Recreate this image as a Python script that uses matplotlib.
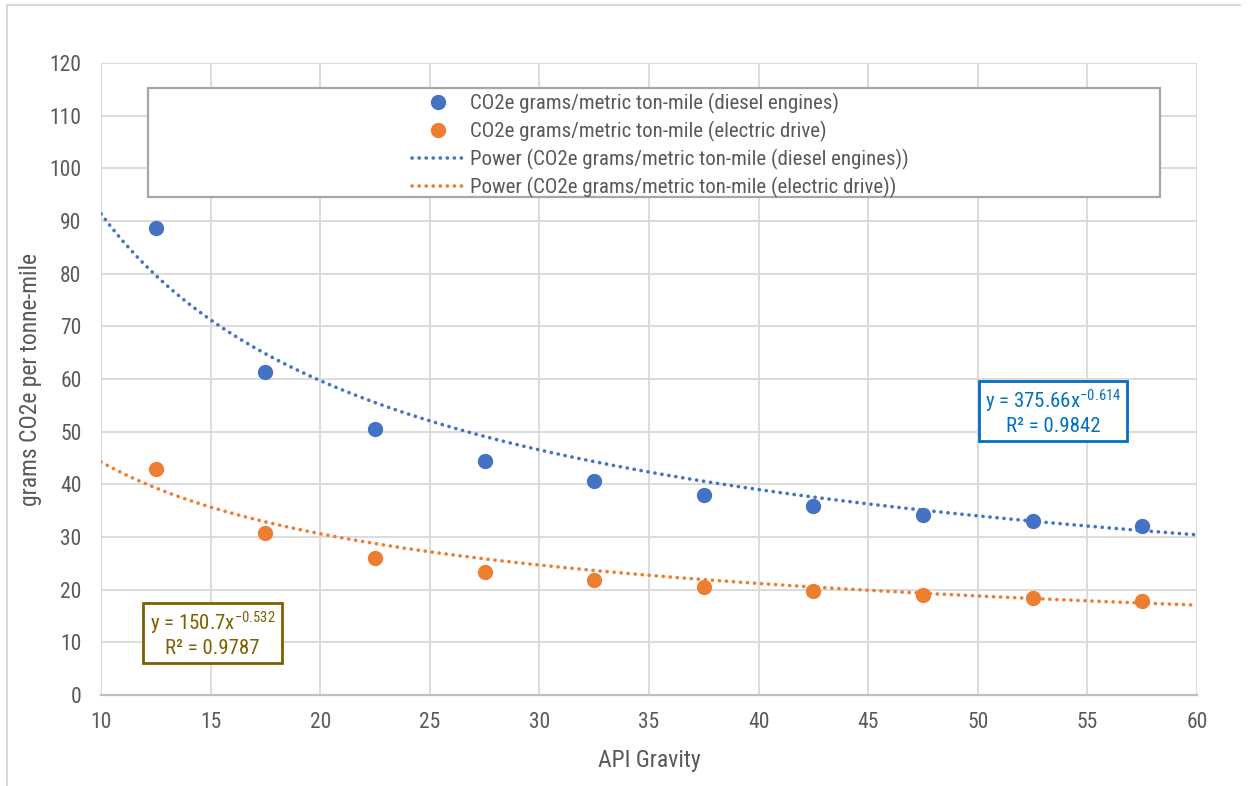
import matplotlib
matplotlib.use("Agg")
import matplotlib.pyplot as plt
import numpy as np
from matplotlib import font_manager
from matplotlib.lines import Line2D
from matplotlib.patches import Rectangle

# police étroite si dispo, sinon Liberation Sans
dispo = {f.name for f in font_manager.fontManager.ttflist}
police = 'Liberation Sans'
for nom in ['Liberation Sans Narrow', 'Arial Narrow', 'Roboto Condensed']:
    if nom in dispo:
        police = nom
        break
plt.rcParams['font.family'] = [police, 'DejaVu Sans']
plt.rcParams['mathtext.fontset'] = 'custom'
plt.rcParams['mathtext.rm'] = police
plt.rcParams['mathtext.it'] = police

# données
api_gravity = [12.5, 17.5, 22.5, 27.5, 32.5, 37.5, 42.5, 47.5, 52.5, 57.5]
co2_diesel = [88.7, 61.3, 50.5, 44.4, 40.6, 38.0, 35.9, 34.2, 33.1, 32.0]
co2_electric = [42.9, 30.8, 26.0, 23.4, 21.8, 20.6, 19.7, 18.9, 18.4, 17.9]

# coefficients des courbes de tendance (loi puissance) affichés sur le graphique
diesel_a, diesel_b, diesel_r2 = 375.66, -0.614, 0.9842
electric_a, electric_b, electric_r2 = 150.7, -0.532, 0.9787

lbl_diesel = "CO2e grams/metric ton-mile (diesel engines)"
lbl_electric = "CO2e grams/metric ton-mile (electric drive)"

blue = '#4472C4'
orange = '#ED7D31'
txt_col = '#595959'
W, H = 1249, 786

fig = plt.figure(figsize=(W/100, H/100), dpi=100)
ax = fig.add_axes([101/W, 1 - 695/H, (1197-101)/W, (695-63)/H])

dots = dict(lw=2.6, dashes=(0.05, 1.9), dash_capstyle='round')
x_fit = np.linspace(10, 60, 300)
ax.plot(x_fit, diesel_a * x_fit**diesel_b, color=blue, zorder=3, **dots)
ax.plot(x_fit, electric_a * x_fit**electric_b, color=orange, zorder=3, **dots)
ax.plot(api_gravity, co2_diesel, 'o', color=blue, ms=10, zorder=4)
ax.plot(api_gravity, co2_electric, 'o', color=orange, ms=10, zorder=4)

ax.set_xlim(10, 60)
ax.set_ylim(0, 120)
ax.set_xticks(np.arange(10, 61, 5))
ax.set_yticks(np.arange(0, 121, 10))
ax.grid(True, color='#D9D9D9', lw=1.3)
ax.set_axisbelow(True)
for s in ['top', 'right', 'left']:
    ax.spines[s].set_visible(False)
ax.spines['bottom'].set_color('#BFBFBF')
ax.spines['bottom'].set_linewidth(1.6)
ax.tick_params(length=0, labelsize=15.5, colors=txt_col)
ax.tick_params(axis='y', pad=14)
ax.tick_params(axis='x', pad=12)
ax.set_xlabel("API Gravity", fontsize=17, color=txt_col, labelpad=12)
ax.set_ylabel("grams CO2e per tonne-mile", fontsize=17, color=txt_col, labelpad=5)

# légende (cadre dessiné à part, comme dans Excel)
fig.patches.append(Rectangle((148/W, 1 - 197/H), (1160-148)/W, (197-88)/H,
                             transform=fig.transFigure, facecolor='white',
                             edgecolor='#A6A6A6', lw=1.6, zorder=5))
handles = [
    Line2D([], [], color=blue, marker='o', ls='none', ms=10),
    Line2D([], [], color=orange, marker='o', ls='none', ms=10),
    Line2D([], [], color=blue, **dots),
    Line2D([], [], color=orange, **dots),
]
labels = [lbl_diesel, lbl_electric,
          "Power (" + lbl_diesel + ")", "Power (" + lbl_electric + ")"]
leg = fig.legend(handles, labels, loc='upper left',
                 bbox_to_anchor=(397/W, 1 - 78/H), frameon=False,
                 fontsize=15, handlelength=2.5, handletextpad=0.3,
                 labelspacing=0.33, borderpad=0.2)
leg.set_zorder(6)
for t in leg.get_texts():
    t.set_color(txt_col)

# étiquettes des équations (cadres fixes)
boites = [
    (979, 381, 1127, 441, '#0070C0',
     "y = %.2fx$^{%.3f}$" % (diesel_a, diesel_b), "R² = %.4f" % diesel_r2),
    (143, 603, 282, 663, '#7F6000',
     "y = %.1fx$^{%.3f}$" % (electric_a, electric_b), "R² = %.4f" % electric_r2),
]
for x0, y0, x1, y1, col, eq, r2 in boites:
    fig.patches.append(Rectangle((x0/W, 1 - y1/H), (x1-x0)/W, (y1-y0)/H,
                                 transform=fig.transFigure, facecolor='white',
                                 edgecolor=col, lw=2, zorder=5))
    xc = (x0 + x1) / 2 / W
    fig.text(xc, 1 - (y0 + 20)/H, eq, ha='center', va='center', fontsize=15,
             color=col, zorder=6)
    fig.text(xc, 1 - (y0 + 45)/H, r2, ha='center', va='center', fontsize=15,
             color=col, zorder=6)

# bordure de la zone du graphique (haut et gauche visibles)
fig.add_artist(Line2D([7/W, 7/W], [0, 1 - 5/H], color='#D9D9D9', lw=1.5,
                      transform=fig.transFigure))
fig.add_artist(Line2D([7/W, 1240/W], [1 - 5/H, 1 - 5/H], color='#D9D9D9',
                      lw=1.5, transform=fig.transFigure))

fig.savefig('out.png', dpi=100)
